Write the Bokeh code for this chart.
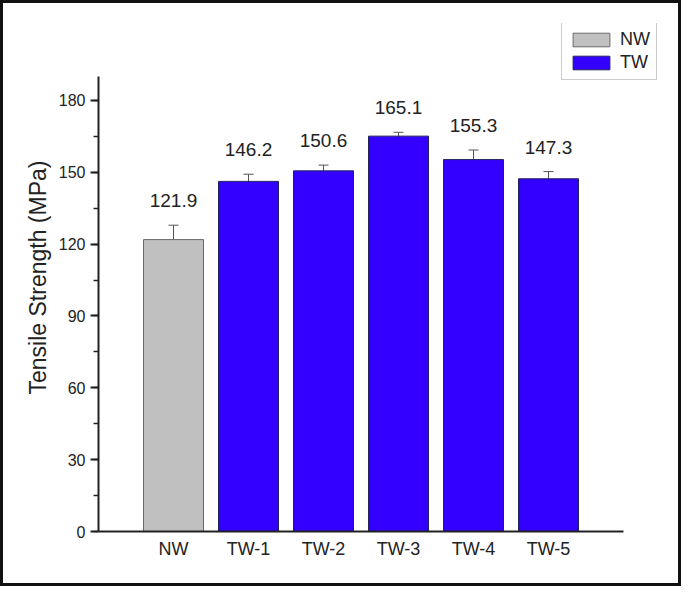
from bokeh.plotting import figure
from bokeh.models import (ColumnDataSource, Range1d, SingleIntervalTicker, FixedTicker,
                          Whisker, Legend, LegendItem)
from bokeh.core.properties import value
from bokeh.embed import file_html
from bokeh.resources import INLINE

# ---- data ----
categories = ["NW", "TW-1", "TW-2", "TW-3", "TW-4", "TW-5"]
strength = [121.9, 146.2, 150.6, 165.1, 155.3, 147.3]
error = [6.0, 3.0, 2.4, 1.6, 4.0, 3.0]
group = ["NW", "TW", "TW", "TW", "TW", "TW"]
group_colors = {"NW": "#c0c0c0", "TW": "#3300ff"}
group_edges = {"NW": "#6a6a6a", "TW": "#22225a"}
y_ticks_interval = 30
y_axis_max = 190

FONT = "Liberation Sans"

positions = list(range(1, len(categories) + 1))

def sub(g):
    idx = [i for i, gg in enumerate(group) if gg == g]
    return ColumnDataSource(dict(
        x=[positions[i] for i in idx],
        val=[strength[i] for i in idx],
        upper=[strength[i] + error[i] for i in idx],
        lower=[strength[i] - error[i] for i in idx],
        lab=["%.1f" % strength[i] for i in idx],
    ))

W, H = 681, 586
ML, MR, MT, MB = 95, 19, 20, 58
frame_w = W - ML - MR
frame_h = H - MT - MB
px_per_x = 525 / (len(categories) + 1)      # axis spans categories + 1 units
px_per_y = 455 / y_axis_max                  # axis spans 0..190

p = figure(width=W, height=H,
           x_range=Range1d(0, frame_w / px_per_x),
           y_range=Range1d(0, frame_h / px_per_y),
           output_backend="svg", toolbar_location=None,
           min_border_left=ML, min_border_right=MR, min_border_top=MT, min_border_bottom=MB,
           styles={"border": "3px solid #111", "box-sizing": "border-box"})

p.xgrid.visible = False
p.ygrid.visible = False
p.outline_line_color = None

renderers = {}
for g in ["NW", "TW"]:
    src = sub(g)
    r = p.vbar(x="x", top="val", width=0.8, source=src, fill_color=group_colors[g],
               line_color=group_edges[g], line_width=1)
    renderers[g] = r
    w = Whisker(base="x", upper="upper", lower="lower", source=src,
                line_color="#555555", line_width=1)
    w.upper_head.size = 10
    w.lower_head.size = 10
    w.upper_head.line_color = "#555555"
    w.lower_head.line_color = "#555555"
    p.add_layout(w)
    p.text(x="x", y="upper", text="lab", source=src, text_align="center",
           text_baseline="bottom", y_offset=-18, text_font=value(FONT),
           text_font_size="19px", text_color="#222222")

# axes
p.yaxis.ticker = SingleIntervalTicker(interval=y_ticks_interval, num_minor_ticks=2)
p.yaxis.bounds = (0, y_axis_max)
p.yaxis.axis_label = "Tensile Strength (MPa)"
p.yaxis.axis_label_text_font = FONT
p.yaxis.axis_label_text_font_style = "normal"
p.yaxis.axis_label_text_font_size = "23px"
p.yaxis.axis_label_text_color = "#222222"
p.yaxis.axis_label_standoff = 5
p.yaxis.major_label_text_font = FONT
p.yaxis.major_label_text_font_size = "16px"
p.yaxis.major_label_text_color = "#222222"
p.yaxis.major_tick_in = 0
p.yaxis.major_tick_out = 8
p.yaxis.minor_tick_in = 0
p.yaxis.minor_tick_out = 5
p.yaxis.major_label_standoff = 5

p.xaxis.ticker = FixedTicker(ticks=positions)
p.xaxis.major_label_overrides = {pos: c for pos, c in zip(positions, categories)}
p.xaxis.bounds = (0, len(categories) + 1)
p.xaxis.major_label_text_font = FONT
p.xaxis.major_label_text_font_size = "18px"
p.xaxis.major_label_text_color = "#222222"
p.xaxis.major_label_standoff = 1

for ax in (p.xaxis[0], p.yaxis[0]):
    ax.axis_line_color = "#222222"
    ax.axis_line_width = 2
    ax.major_tick_line_color = "#222222" if ax is p.yaxis[0] else None
    ax.major_tick_line_width = 2
    ax.minor_tick_line_width = 1.5
    ax.minor_tick_line_color = "#222222" if ax is p.yaxis[0] else None

legend = Legend(items=[LegendItem(label="NW", renderers=[renderers["NW"]]),
                       LegendItem(label="TW", renderers=[renderers["TW"]])],
                location=(463, 451), orientation="vertical")
legend.label_text_font = FONT
legend.label_text_font_size = "18px"
legend.label_text_color = "#222222"
legend.glyph_width = 46
legend.glyph_height = 17
legend.label_height = 17
legend.label_standoff = 6
legend.spacing = 2
legend.padding = 6
legend.margin = 0
legend.border_line_color = "#999999"
legend.border_line_width = 1
legend.background_fill_alpha = 1
p.add_layout(legend, "center")

open("out.html", "w").write(file_html(p, INLINE))
